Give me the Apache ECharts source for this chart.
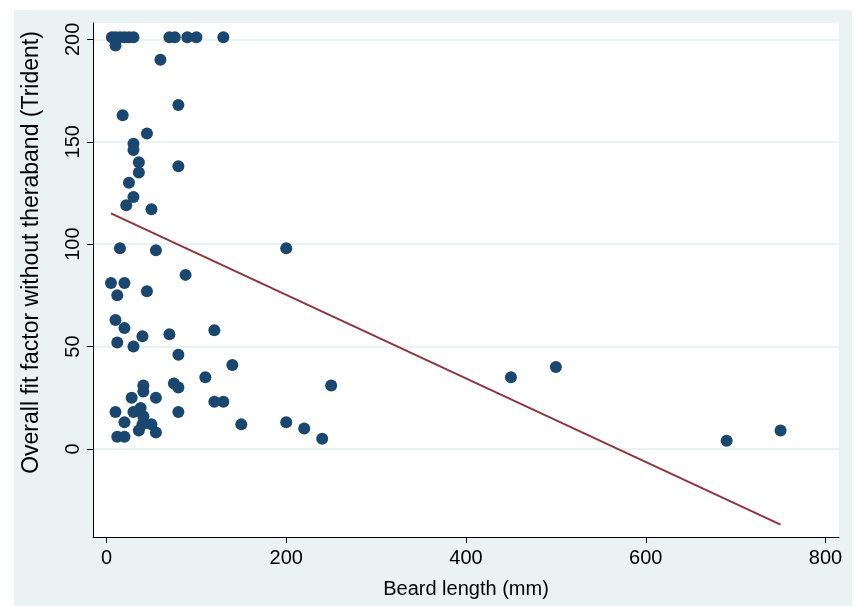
<!DOCTYPE html>
<html>
<head>
<meta charset="utf-8">
<title>Beard length and fit factor</title>
<script src="https://cdn.jsdelivr.net/npm/echarts@6/dist/echarts.min.js"></script>
<style>
  html, body { margin: 0; padding: 0; background: #fff; }
  #main { width: 856px; height: 606px; }
</style>
</head>
<body>
<div id="main"></div>
<script>
// beard length (mm), one entry per participant
var beardLength = [
  6, 10, 15, 20, 25, 30, 70, 76, 90, 100, 130,
  10, 60, 80, 18, 45, 30, 30, 36, 80, 36, 25, 30, 22, 50,
  15, 55, 200, 88, 5, 20, 12, 45,
  10, 20, 40, 70, 120, 12, 30, 80, 140, 110, 450, 500,
  41, 41, 75, 80, 250, 28, 55, 120, 130,
  10, 30, 38, 41, 80, 20, 50, 40, 150, 200, 220, 240,
  36, 55, 12, 20, 690, 750
];
// overall fit factor without theraband (Trident), same order
var fitFactor = [
  201, 201, 201, 201, 201, 201, 201, 201, 201, 201, 201,
  197, 190, 168, 163, 154, 149, 146, 140, 138, 135, 130, 123, 119, 117,
  98, 97, 98, 85, 81, 81, 75, 77,
  63, 59, 55, 56, 58, 52, 50, 46, 41, 35, 35, 40,
  31, 28, 32, 30, 31, 25, 25, 23, 23,
  18, 18, 20, 16, 18, 13, 12, 12, 12, 13, 10, 5,
  9, 8, 6, 6, 4, 9
];
// fitted line, read at the ends of the data range
var fitX = [5, 750];
var fitY = [115, -37];

var xTicks = [0, 200, 400, 600, 800];
var yTicks = [0, 50, 100, 150, 200];

var font = '"Liberation Sans", Arial, Helvetica, sans-serif';

var points = beardLength.map(function (x, i) { return [x, fitFactor[i]]; });
var line = fitX.map(function (x, i) { return [x, fitY[i]]; });

var chart = echarts.init(document.getElementById('main'));
chart.setOption({
  backgroundColor: '#ffffff',
  animation: false,
  graphic: [
    { type: 'rect', z: -10, shape: { x: 14, y: 10, width: 838, height: 596 },
      style: { fill: '#EAF2F3' } },
    { type: 'rect', z: -9, shape: { x: 93, y: 23, width: 746, height: 514 },
      style: { fill: '#ffffff' } }
  ],
  grid: { left: 93, right: 17, top: 23, bottom: 69 },
  xAxis: {
    type: 'value',
    min: -15, max: 815,
    name: 'Beard length (mm)',
    nameLocation: 'middle',
    nameGap: 42,
    nameTextStyle: { fontFamily: font, fontSize: 20, color: '#000' },
    axisLine: { onZero: false, lineStyle: { color: '#000', width: 1 } },
    axisTick: { customValues: xTicks, length: 6, lineStyle: { color: '#000' } },
    axisLabel: { customValues: xTicks, margin: 11, fontFamily: font, fontSize: 20, color: '#000' },
    splitLine: { show: false }
  },
  yAxis: {
    type: 'value',
    min: -43, max: 208,
    name: 'Overall fit factor without theraband (Trident)',
    nameLocation: 'middle',
    nameGap: 50,
    // title sits a bit above the middle of the plot, as in the original
    nameTextStyle: { fontFamily: font, fontSize: 23, color: '#000', padding: [0, 0, 0, 55] },
    axisLine: { show: true, onZero: false, lineStyle: { color: '#000', width: 1 } },
    axisTick: { show: true, customValues: yTicks, length: 6, lineStyle: { color: '#000' } },
    axisLabel: { customValues: yTicks, rotate: 90, margin: 10, fontFamily: font, fontSize: 20, color: '#000' },
    splitLine: { show: true, lineStyle: { color: '#EAF2F3', width: 2 } }
  },
  series: [
    {
      type: 'scatter',
      data: points,
      symbol: 'circle',
      symbolSize: 12,
      itemStyle: { color: '#1A476F', opacity: 1 },
      z: 3
    },
    {
      type: 'line',
      data: line,
      symbol: 'none',
      lineStyle: { color: '#90353B', width: 2 },
      z: 4
    }
  ]
});
</script>
</body>
</html>
